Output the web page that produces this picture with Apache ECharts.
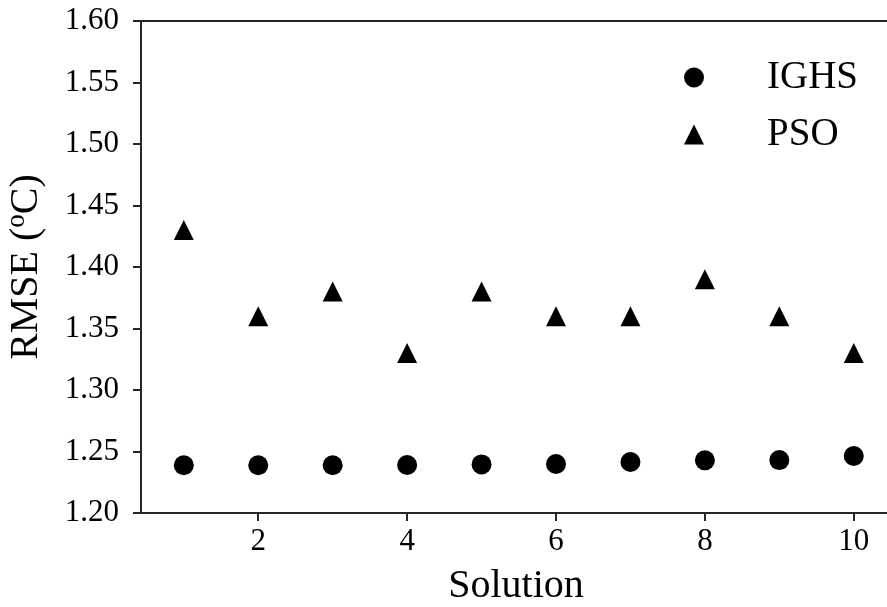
<!DOCTYPE html>
<html>
<head>
<meta charset="utf-8">
<script src="https://cdn.jsdelivr.net/npm/echarts@6/dist/echarts.min.js"></script>
<style>html,body{margin:0;padding:0;background:#fff}#c{width:887px;height:607px}</style>
</head>
<body>
<div id="c"></div>
<script>
const solutions = [1, 2, 3, 4, 5, 6, 7, 8, 9, 10];
const ighs = [1.2388, 1.2388, 1.2388, 1.2390, 1.2395, 1.2398, 1.2415, 1.2428, 1.2430, 1.2463];
const pso = [1.43, 1.36, 1.38, 1.33, 1.38, 1.36, 1.36, 1.39, 1.36, 1.33];
const xTicks = [2, 4, 6, 8, 10];

const font = 'Liberation Serif';
const axisColor = '#262626';
const chart = echarts.init(document.getElementById('c'), null, {renderer: 'canvas'});
chart.setOption({
  animation: false,
  backgroundColor: '#fff',
  grid: {left: 141, right: -4, top: 21, bottom: 94, show: true, borderColor: axisColor, borderWidth: 2,
         backgroundColor: 'transparent', containLabel: false, outerBoundsMode: 'none'},
  legend: {
    orient: 'vertical', left: 679, top: 53,
    itemWidth: 20, itemHeight: 20, itemGap: 18,
    textStyle: {fontFamily: font, fontSize: 39, color: '#000', lineHeight: 38, padding: [0, 0, 0, 58]},
    data: [{name: 'IGHS', icon: 'circle'}, {name: 'PSO', icon: 'triangle'}]
  },
  xAxis: {
    type: 'value', min: 0.425, max: 10.5,
    name: 'Solution', nameLocation: 'middle', nameGap: 53,
    nameTextStyle: {fontFamily: font, fontSize: 40, color: '#000'},
    axisLine: {show: true, lineStyle: {color: axisColor, width: 2}},
    axisTick: {show: true, length: 8, customValues: xTicks, lineStyle: {color: axisColor, width: 2}},
    axisLabel: {customValues: xTicks, fontFamily: font, fontSize: 31, color: '#000', margin: 13},
    splitLine: {show: false}
  },
  yAxis: {
    type: 'value', min: 1.2, max: 1.6, interval: 0.05,
    name: '{a|RMSE (}{s|o}{a|C)}', nameLocation: 'middle', nameGap: 91, nameRotate: 90,
    nameTextStyle: {fontFamily: font, fontSize: 40, color: '#000',
      rich: {a: {fontFamily: font, fontSize: 40, color: '#000'}, s: {fontFamily: font, fontSize: 27, color: '#000', verticalAlign: 'top', padding: [0, 0, 20, 0]}}},
    axisLine: {show: true, lineStyle: {color: axisColor, width: 2}},
    axisTick: {show: true, length: 8, lineStyle: {color: axisColor, width: 2}},
    axisLabel: {fontFamily: font, fontSize: 31, color: '#000', margin: 22, formatter: v => v.toFixed(2)},
    splitLine: {show: false}
  },
  series: [
    {name: 'IGHS', type: 'scatter', symbol: 'circle', symbolSize: 20,
     itemStyle: {color: '#000', opacity: 1}, data: solutions.map((s, i) => [s, ighs[i]])},
    {name: 'PSO', type: 'scatter', symbol: 'triangle', symbolSize: 20,
     itemStyle: {color: '#000', opacity: 1}, data: solutions.map((s, i) => [s, pso[i]])}
  ]
});
</script>
</body>
</html>
